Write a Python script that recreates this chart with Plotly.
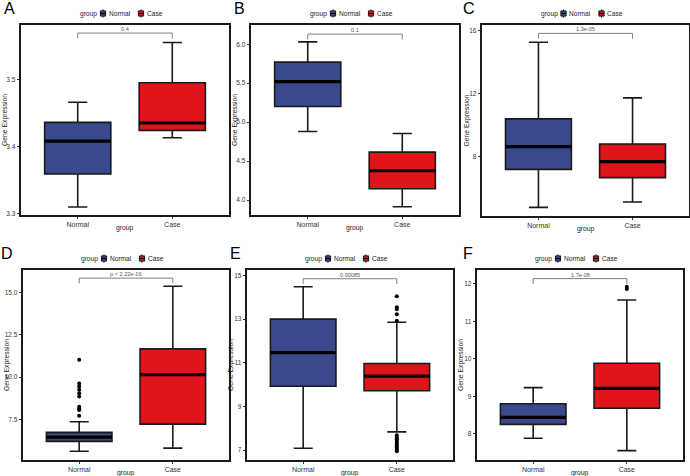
import plotly.graph_objects as go

# ---------------- data ----------------
groups = ["Normal", "Case"]
legend_title = "group"
x_title = "group"
y_title = "Gene Expression"
panel_letters = ["A", "B", "C", "D", "E", "F"]
p_labels = ["0.4", "0.1", "1.3e-05", "p < 2.22e-16", "0.00085", "1.7e-08"]

# box statistics per panel: [Normal, Case]
lower_whisker = [[3.310, 3.413], [4.88, 3.914], [4.78, 5.12], [5.62, 5.80], [7.09, 7.84], [7.88, 7.55]]
q1_values = [[3.359, 3.424], [5.20, 4.145], [7.19, 6.67], [6.20, 7.22], [9.93, 9.72], [8.25, 8.68]]
median_values = [[3.408, 3.435], [5.52, 4.376], [8.63, 7.68], [6.45, 10.15], [11.47, 10.39], [8.44, 9.21]]
q3_values = [[3.436, 3.495], [5.77, 4.615], [10.40, 8.80], [6.73, 11.67], [13.00, 10.97], [8.80, 9.88]]
upper_whisker = [[3.466, 3.555], [6.03, 4.855], [15.26, 11.73], [7.36, 15.37], [14.48, 12.86], [9.23, 11.57]]

# outliers per panel: [Normal, Case]
outlier_values = [
    [[], []],
    [[], []],
    [[], []],
    [[11.03, 9.62, 9.45, 9.25, 9.05, 8.85, 8.25, 8.12, 8.05, 7.71], []],
    [[], [14.05, 13.55, 13.45, 13.22, 12.93, 7.68, 7.58, 7.50, 7.42, 7.34, 7.26, 7.18, 7.10, 7.02, 6.95]],
    [[], [11.92, 11.86]],
]

# comparison bracket heights
bracket_y = [3.569, 6.13, 15.83, 15.85, 14.85, 12.14]

# y axes
y_ranges = [[3.298, 3.581], [3.808, 6.247], [4.23, 16.36], [5.10, 16.33], [6.55, 15.25], [7.30, 12.37]]
y_tickvals = [[3.3, 3.4, 3.5], [4.0, 4.5, 5.0, 5.5, 6.0], [8, 12, 16], [7.5, 10.0, 12.5, 15.0],
              [7, 9, 11, 13, 15], [8, 9, 10, 11, 12]]
y_ticktext = [["3.3", "3.4", "3.5"], ["4.0", "4.5", "5.0", "5.5", "6.0"], ["8", "12", "16"],
              ["7.5", "10.0", "12.5", "15.0"], ["7", "9", "11", "13", "15"], ["8", "9", "10", "11", "12"]]

# ---------------- styling / layout ----------------
W, H = 690, 476
FONT = "Liberation Sans, Arial, sans-serif"
fill_colors = ["#39498C", "#E0151B"]
x_pos = [1, 2]
BOX_W = 0.7

# panel plot areas in pixels: (left, right, top, bottom)
panels_px = [(21, 229, 25, 215), (251, 459, 25, 215), (482, 689, 25, 216),
             (23, 229, 270, 460), (247, 453, 270, 460), (477, 683, 270, 460)]
letter_left_px = [4, 234, 463, 1, 230, 463]


def px(x):
    return x / W


def py(y):
    return 1 - y / H


fig = go.Figure()
layout_axes = {}
annotations = []
shapes = []

for i in range(6):
    n = "" if i == 0 else str(i + 1)
    xa, ya = "x" + n, "y" + n
    for g in range(2):
        fig.add_trace(go.Box(
            x=[x_pos[g]], q1=[q1_values[i][g]], median=[median_values[i][g]],
            q3=[q3_values[i][g]], lowerfence=[lower_whisker[i][g]], upperfence=[upper_whisker[i][g]],
            name=groups[g], fillcolor=fill_colors[g],
            line=dict(color="#1a1a1a", width=1.6),
            width=BOX_W, whiskerwidth=0.29, boxpoints=False,
            xaxis=xa, yaxis=ya, showlegend=False, hoverinfo="skip",
        ))
    for g in range(2):
        m = median_values[i][g]
        fig.add_trace(go.Scatter(
            x=[x_pos[g] - BOX_W / 2, x_pos[g] + BOX_W / 2], y=[m, m], mode="lines",
            line=dict(color="black", width=3.2), xaxis=xa, yaxis=ya,
            showlegend=False, hoverinfo="skip",
        ))
        if outlier_values[i][g]:
            fig.add_trace(go.Scatter(
                x=[x_pos[g]] * len(outlier_values[i][g]), y=outlier_values[i][g], mode="markers",
                marker=dict(color="black", size=4), xaxis=xa, yaxis=ya,
                showlegend=False, hoverinfo="skip",
            ))

    l, r, t, b = panels_px[i]
    cx = (l + r) / 2
    layout_axes["xaxis" + n] = dict(
        domain=[px(l), px(r)], range=[0.4, 2.6], anchor=ya,
        tickvals=x_pos, ticktext=groups, showgrid=False, zeroline=False,
        showline=True, mirror=True, linecolor="#1a1a1a", linewidth=1.8,
        ticks="outside", ticklen=2, tickcolor="#333", tickwidth=1,
        tickfont=dict(size=7, color="#333", family=FONT),
        automargin=False, fixedrange=True,
    )
    layout_axes["yaxis" + n] = dict(
        domain=[py(b), py(t)], range=y_ranges[i], anchor=xa,
        tickvals=y_tickvals[i], ticktext=y_ticktext[i], showgrid=False, zeroline=False,
        showline=True, mirror=True, linecolor="#1a1a1a", linewidth=1.8,
        ticks="outside", ticklen=2.5, tickcolor="#333", tickwidth=1,
        tickfont=dict(size=6.5, color="#333", family=FONT),
        automargin=False, fixedrange=True,
    )
    # axis titles
    annotations.append(dict(
        x=px(cx), y=py(b + 12.5), xref="paper", yref="paper", text=x_title, showarrow=False,
        xanchor="center", yanchor="middle", borderpad=0, font=dict(size=6.8, color="#222", family=FONT),
    ))
    annotations.append(dict(
        x=px(l - 16), y=py((t + b) / 2), xref="paper", yref="paper", text=y_title, showarrow=False,
        textangle=-90, xanchor="center", yanchor="middle", font=dict(size=6.8, color="#222", family=FONT),
    ))
    # legend (ggplot-style, above each panel)
    cy = t - 11.5
    start = cx - 46
    annotations.append(dict(
        x=px(start), y=py(cy), xref="paper", yref="paper", text=legend_title, showarrow=False,
        xanchor="left", yanchor="middle", borderpad=0, font=dict(size=6.6, color="#222", family=FONT),
    ))
    for g, (kx, tx) in enumerate([(start + 24, start + 28.5), (start + 62, start + 66.5)]):
        shapes.append(dict(type="line", xref="paper", yref="paper",
                           x0=px(kx), x1=px(kx), y0=py(cy - 4.2), y1=py(cy + 4.2),
                           line=dict(color="#1a1a1a", width=1)))
        shapes.append(dict(type="rect", xref="paper", yref="paper",
                           x0=px(kx - 2.6), x1=px(kx + 2.6), y0=py(cy - 2.6), y1=py(cy + 2.6),
                           fillcolor=fill_colors[g], line=dict(color="#1a1a1a", width=1)))
        shapes.append(dict(type="line", xref="paper", yref="paper",
                           x0=px(kx - 2.6), x1=px(kx + 2.6), y0=py(cy), y1=py(cy),
                           line=dict(color="black", width=1.2)))
        annotations.append(dict(
            x=px(tx), y=py(cy), xref="paper", yref="paper", text=groups[g], showarrow=False,
            xanchor="left", yanchor="middle", borderpad=0, font=dict(size=6.6, color="#222", family=FONT),
        ))
    # comparison bracket
    span = y_ranges[i][1] - y_ranges[i][0]
    top = bracket_y[i]
    leg_end = top - 0.028 * span
    shapes.append(dict(
        type="path", xref=xa, yref=ya,
        path=f"M {x_pos[0]},{leg_end} L {x_pos[0]},{top} L {x_pos[1]},{top} L {x_pos[1]},{leg_end}",
        line=dict(color="#808080", width=1),
    ))
    annotations.append(dict(
        x=(x_pos[0] + x_pos[1]) / 2, y=top, xref=xa, yref=ya, text=p_labels[i],
        showarrow=False, yanchor="bottom", borderpad=0,
        font=dict(size=5.6, color="#555", family=FONT),
    ))
    # panel letter
    annotations.append(dict(
        x=px(letter_left_px[i] - 1), y=py(t - 16.5), xref="paper", yref="paper", text=panel_letters[i],
        showarrow=False, xanchor="left", yanchor="middle", borderpad=0,
        font=dict(size=16, color="black", family=FONT),
    ))

fig.update_layout(
    width=W, height=H, margin=dict(l=0, r=0, t=0, b=0),
    paper_bgcolor="white", plot_bgcolor="white",
    annotations=annotations, shapes=shapes, showlegend=False,
    font=dict(family=FONT),
    **layout_axes,
)

fig.write_html(
    "out.html",
    config={"displayModeBar": False, "staticPlot": True},
    post_script="document.body.style.margin='0';document.body.style.padding='0';",
)
